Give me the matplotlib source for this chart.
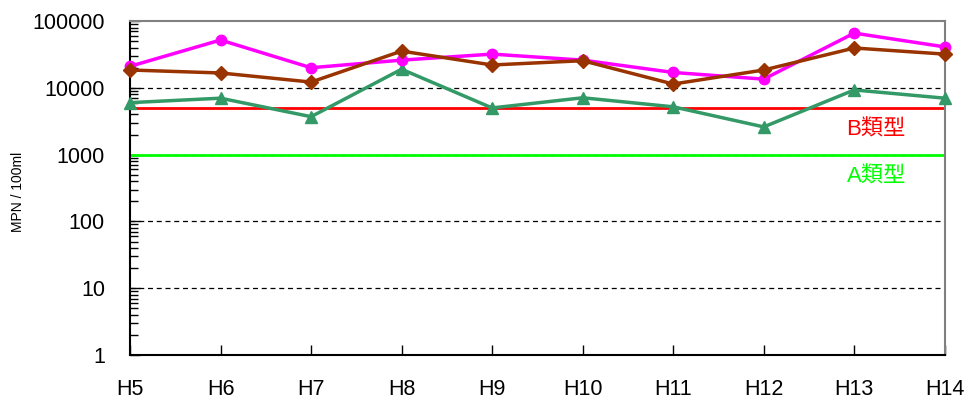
import matplotlib
matplotlib.use("Agg")
import matplotlib.pyplot as plt
from matplotlib.ticker import LogLocator, NullFormatter, FixedLocator
import numpy as np

plt.rcParams['font.family'] = ['Liberation Sans', 'Noto Sans CJK JP', 'DejaVu Sans']

years = ['H5', 'H6', 'H7', 'H8', 'H9', 'H10', 'H11', 'H12', 'H13', 'H14']
site_magenta = [21000, 52000, 20000, 26000, 32000, 26000, 17000, 13500, 66000, 41000]
site_brown = [18500, 16700, 12200, 35500, 22000, 25500, 11400, 18500, 39500, 32000]
site_green = [6000, 7000, 3700, 19000, 5000, 7100, 5200, 2600, 9300, 7000]

std_b = 5000   # B類型
std_a = 1000   # A類型

fig = plt.figure(figsize=(9.7, 4.05), dpi=100)
ax = fig.add_axes([0.134, 0.1235, 0.840, 0.8245])

x = np.arange(len(years))

ax.set_yscale('log')
ax.set_ylim(1, 100000)
ax.set_xlim(x[0], x[-1])

# dashed grid at the decades
for v in [10, 100, 1000, 10000]:
    ax.axhline(v, color='black', ls=(0, (4, 3)), lw=0.9, zorder=1)

ax.axhline(std_b, color='#FF0000', lw=2, zorder=2)
ax.axhline(std_a, color='#00FF00', lw=2, zorder=2)
ax.text(x[-1] - 0.43, std_b * 0.66, 'B類型', color='#FF0000', fontsize=16,
        ha='right', va='top')
ax.text(x[-1] - 0.43, std_a * 0.66, 'A類型', color='#00FF00', fontsize=16,
        ha='right', va='top')

ax.plot(x, site_magenta, color='#FF00FF', lw=2.5, marker='o', ms=7.5, zorder=4,
        clip_on=False)
ax.plot(x, site_brown, color='#993300', lw=2.5, marker='D', ms=7, zorder=5,
        clip_on=False)
ax.plot(x, site_green, color='#339966', lw=2.5, marker='^', ms=9, zorder=3,
        clip_on=False)

ax.set_xticks(x)
ax.set_xticklabels(years)
ax.yaxis.set_major_locator(FixedLocator([1, 10, 100, 1000, 10000, 100000]))
ax.set_yticklabels(['1', '10', '100', '1000', '10000', '100000'])
ax.yaxis.set_minor_locator(LogLocator(base=10, subs=np.arange(2, 10)))
ax.yaxis.set_minor_formatter(NullFormatter())

ax.tick_params(axis='both', which='major', direction='in', length=7, width=1,
               labelsize=15.5, color='black')
ax.tick_params(axis='y', which='minor', direction='in', length=6, width=1)
ax.tick_params(axis='y', which='major', pad=18)
ax.tick_params(axis='x', which='major', pad=17)

for side in ['left', 'bottom']:
    ax.spines[side].set_color('black')
    ax.spines[side].set_linewidth(1.5)
for side in ['top', 'right']:
    ax.spines[side].set_color('#808080')
    ax.spines[side].set_linewidth(1.5)

fig.text(0.019, 0.527, 'MPN / 100ml', rotation=90, fontsize=10,
         ha='center', va='center')

fig.savefig('out.png', dpi=100)
